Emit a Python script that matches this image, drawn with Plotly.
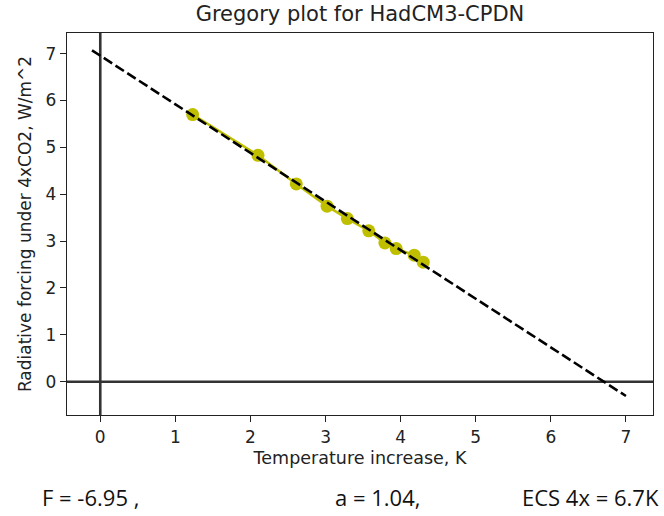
import plotly.graph_objects as go

# Data
temp_increase = [1.23, 2.10, 2.61, 3.02, 3.29, 3.575, 3.79, 3.94, 4.18, 4.30]
rad_forcing = [5.70, 4.83, 4.22, 3.745, 3.48, 3.22, 2.96, 2.84, 2.70, 2.55]
F = -6.95
a = 1.04
ecs = 6.7
fit_x = [-0.11, 7.0]
fit_y = [7.07, -0.305]

title = "Gregory plot for HadCM3-CPDN"
xlabel = "Temperature increase, K"
ylabel = "Radiative forcing under 4xCO2, W/m^2"
tick_vals = [0, 1, 2, 3, 4, 5, 6, 7]

fig = go.Figure()
fig.add_trace(go.Scatter(
    x=temp_increase, y=rad_forcing, mode="lines+markers",
    line=dict(color="#bfbf00", width=2.5),
    marker=dict(color="#bfbf00", size=13, line=dict(width=0)),
    showlegend=False, hoverinfo="skip"))
fig.add_trace(go.Scatter(
    x=fit_x, y=fit_y, mode="lines",
    line=dict(color="black", width=2.6, dash="10px,4px"),
    showlegend=False, hoverinfo="skip"))

# axhline / axvline at zero
fig.add_shape(type="line", xref="paper", yref="y", x0=0, x1=1, y0=0, y1=0,
              line=dict(color="#333333", width=2.6), layer="below")
fig.add_shape(type="line", xref="x", yref="paper", x0=0, x1=0, y0=0, y1=1,
              line=dict(color="#333333", width=2.6), layer="below")

txt_color = "#222222"
axis_common = dict(
    showgrid=False, zeroline=False, showline=True, mirror=True,
    linecolor="#222222", linewidth=1.4, ticks="outside", ticklen=6,
    tickcolor="#222222", tickwidth=1.4,
    tickfont=dict(family="DejaVu Sans", size=17, color=txt_color),
    tickvals=tick_vals,
)

fig.update_layout(
    width=664, height=516,
    margin=dict(l=67, r=11, t=33, b=101),
    paper_bgcolor="white", plot_bgcolor="white",
    title=dict(text=title, x=(67 + 653) / 2 / 664, xanchor="center",
               y=1 - 14 / 516, yanchor="middle",
               font=dict(family="DejaVu Sans", size=21, color=txt_color)),
    xaxis=dict(range=[-0.443, 7.36],
               title=dict(text=xlabel, standoff=6,
                          font=dict(family="DejaVu Sans", size=17.5, color=txt_color)),
               **axis_common),
    yaxis=dict(range=[-0.71, 7.44],
               title=dict(text=ylabel, standoff=9,
                          font=dict(family="DejaVu Sans", size=17, color=txt_color)),
               **axis_common),
)

bottom_font = dict(family="Open Sans", size=22, color="#111111")
yb = -(497 - 415) / 382
fig.add_annotation(text=f"F = {F} ,", xref="paper", yref="paper",
                   x=(40 - 67) / 586, y=yb, xanchor="left",
                   yanchor="middle", showarrow=False, font=bottom_font)
fig.add_annotation(text=f"a = {a},", xref="paper", yref="paper",
                   x=(333 - 67) / 586, y=yb, xanchor="left",
                   yanchor="middle", showarrow=False, font=bottom_font)
fig.add_annotation(text=f"ECS 4x = {ecs}K", xref="paper", yref="paper",
                   x=(661 - 67) / 586, y=yb, xanchor="right",
                   yanchor="middle", showarrow=False, font=bottom_font)

fig.write_html("out.html")
